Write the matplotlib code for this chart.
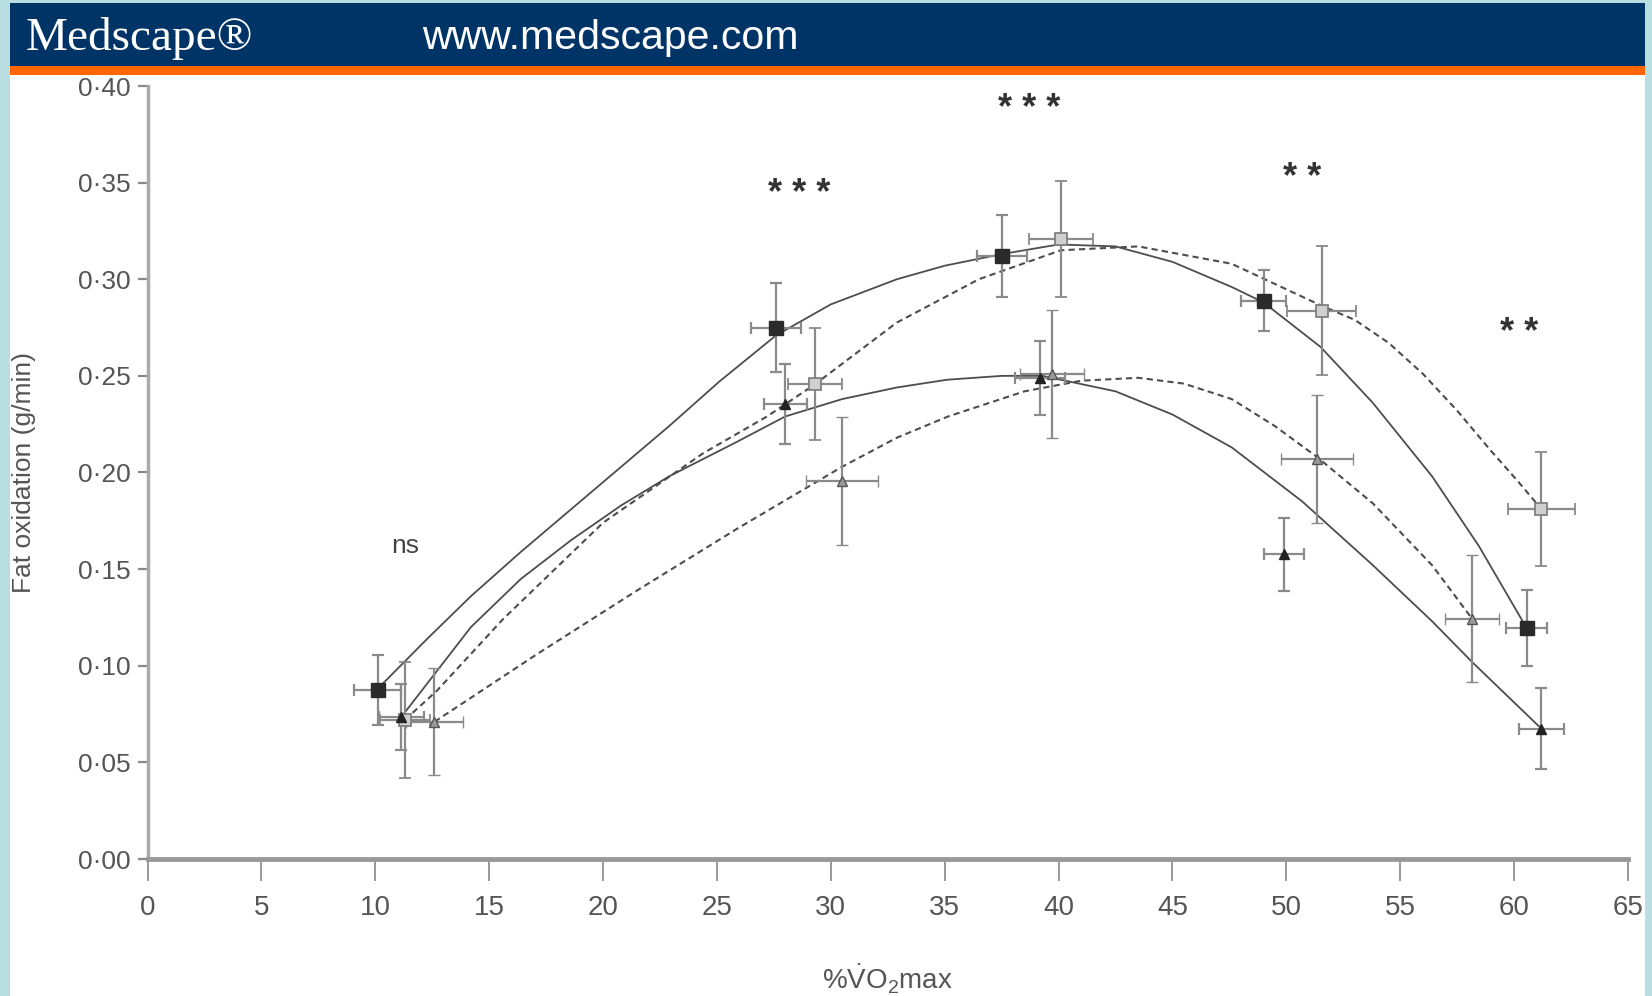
import matplotlib.pyplot as plt
from matplotlib.patches import Rectangle

plt.rcParams['font.family'] = ['Liberation Sans', 'DejaVu Sans']
plt.rcParams['mathtext.fontset'] = 'custom'
plt.rcParams['mathtext.rm'] = 'Liberation Sans'

# filled squares
sq_x = [10.1, 27.6, 37.5, 49.0, 60.55]
sq_y = [0.0875, 0.275, 0.312, 0.289, 0.1195]
sq_xerr = [1.05, 1.1, 1.1, 1.0, 0.9]
sq_yerr = [0.018, 0.023, 0.021, 0.016, 0.0195]

# open squares
osq_x = [11.3, 29.3, 40.1, 51.55, 61.2]
osq_y = [0.072, 0.2456, 0.3207, 0.2838, 0.1813]
osq_xerr = [1.1, 1.17, 1.4, 1.5, 1.46]
osq_yerr = [0.03, 0.029, 0.030, 0.0335, 0.0295]

# filled triangles
tri_x = [11.15, 28.0, 39.2, 49.9, 61.2]
tri_y = [0.0736, 0.2353, 0.249, 0.1577, 0.0674]
tri_xerr = [1.0, 0.95, 1.1, 0.88, 1.0]
tri_yerr = [0.017, 0.0207, 0.019, 0.019, 0.021]

# open triangles
otri_x = [12.6, 30.5, 39.7, 51.35, 58.15]
otri_y = [0.071, 0.1955, 0.251, 0.207, 0.1244]
otri_xerr = [1.25, 1.57, 1.4, 1.57, 1.17]
otri_yerr = [0.0277, 0.033, 0.033, 0.033, 0.033]

# fitted curves
fit_sq_x = [10.1, 12.2, 14.2, 16.4, 18.6, 20.8, 22.9, 25.1, 27.6, 30.0, 32.9, 35.0,
            37.5, 40.0, 42.5, 45.0, 47.6, 49.0, 51.5, 53.8, 56.4, 58.45, 60.55]
fit_sq_y = [0.088, 0.113, 0.136, 0.159, 0.181, 0.203, 0.224, 0.247, 0.271, 0.287,
            0.300, 0.307, 0.313, 0.318, 0.317, 0.309, 0.296, 0.288, 0.265, 0.236,
            0.198, 0.162, 0.1195]

fit_osq_x = [11.3, 12.7, 15.6, 20.0, 24.4, 27.2, 29.3, 32.9, 36.5, 40.1, 43.5,
             47.6, 51.6, 53.0, 54.5, 56.0, 57.5, 59.0, 60.2, 61.2]
fit_osq_y = [0.072, 0.087, 0.124, 0.174, 0.210, 0.229, 0.2456, 0.2776, 0.300, 0.315,
             0.317, 0.308, 0.286, 0.279, 0.267, 0.251, 0.232, 0.211, 0.195, 0.181]

fit_tri_x = [11.15, 14.2, 16.4, 18.6, 20.8, 22.9, 25.9, 28.0, 30.5, 32.9, 35.1, 37.5,
             39.3, 42.5, 45.0, 47.6, 50.7, 53.8, 56.4, 58.15, 61.2]
fit_tri_y = [0.0736, 0.120, 0.145, 0.165, 0.183, 0.198, 0.216, 0.229, 0.238, 0.244,
             0.248, 0.250, 0.250, 0.242, 0.230, 0.213, 0.185, 0.152, 0.123, 0.102, 0.0674]

fit_otri_x = [12.6, 17.1, 21.5, 25.9, 30.5, 32.9, 35.15, 38.5, 41.0, 43.5,
              45.5, 47.6, 49.5, 51.35, 53.8, 56.4, 58.15]
fit_otri_y = [0.071, 0.106, 0.139, 0.171, 0.203, 0.218, 0.229, 0.242, 0.2475, 0.249,
              0.246, 0.238, 0.224, 0.208, 0.184, 0.152, 0.1244]

# significance labels
sig_x = [11.3, 28.6, 38.7, 50.7, 60.2]
sig_y = [0.162, 0.348, 0.392, 0.356, 0.276]
sig_txt = ['ns', '***', '***', '**', '**']

xticks = list(range(0, 70, 5))
yticks = [0.0, 0.05, 0.10, 0.15, 0.20, 0.25, 0.30, 0.35, 0.40]

fig = plt.figure(figsize=(16.52, 9.96), dpi=100)
fig.patch.set_facecolor('#b9dee2')

# white panel and header bands
fig.add_artist(Rectangle((10/1652, 0), 1635/1652, 921/996, transform=fig.transFigure,
                         facecolor='white', edgecolor='none', zorder=0))
fig.add_artist(Rectangle((10/1652, 921/996), 1635/1652, 9/996, transform=fig.transFigure,
                         facecolor='#ff6600', edgecolor='none', zorder=0))
fig.add_artist(Rectangle((10/1652, 930/996), 1635/1652, 63/996, transform=fig.transFigure,
                         facecolor='#003366', edgecolor='none', zorder=0))
fig.text(26/1652, 957/996, 'Medscape\u00ae', color='white', fontsize=34,
         family='Liberation Serif', va='center', ha='left')
fig.text(422/1652, 958/996, 'www.medscape.com', color='white', fontsize=29.5,
         va='center', ha='left')

ax = fig.add_axes([147.5/1652, 137/996, 1480.5/1652, 773/996])
ax.set_facecolor('none')

line_c = '#4d4d4d'
err_c = '#8a8a8a'

ax.plot(fit_sq_x, fit_sq_y, color=line_c, lw=1.3, zorder=3)
ax.plot(fit_osq_x, fit_osq_y, color=line_c, lw=1.5, dashes=(3, 2), zorder=3)
ax.plot(fit_tri_x, fit_tri_y, color=line_c, lw=1.3, zorder=3)
ax.plot(fit_otri_x, fit_otri_y, color=line_c, lw=1.5, dashes=(3, 2), zorder=3)

ekw = dict(ecolor=err_c, elinewidth=1.6, capsize=4.5, capthick=1.6, ls='none', zorder=4)
ax.errorbar(otri_x, otri_y, xerr=otri_xerr, yerr=otri_yerr, marker='^', ms=7,
            mfc='#9a9a9a', mec='#555555', mew=1.0, **ekw)
ax.errorbar(osq_x, osq_y, xerr=osq_xerr, yerr=osq_yerr, marker='s', ms=9,
            mfc='#cfcfcf', mec='#808080', mew=1.3, **ekw)
ax.errorbar(tri_x, tri_y, xerr=tri_xerr, yerr=tri_yerr, marker='^', ms=7,
            mfc='#222222', mec='#222222', **ekw)
ax.errorbar(sq_x, sq_y, xerr=sq_xerr, yerr=sq_yerr, marker='s', ms=10,
            mfc='#2a2a2a', mec='#2a2a2a', **ekw)

for x, y, t in zip(sig_x, sig_y, sig_txt):
    if t == 'ns':
        ax.text(x, y, t, fontsize=19, color='#444444', ha='center', va='center')
    else:
        ax.text(x, y - 0.004, ' '.join(t), fontsize=26, fontweight='bold',
                color='#333333', ha='center', va='center')

ax.set_xlim(0, 65)
ax.set_ylim(0, 0.40)
ax.set_xticks(xticks)
ax.set_xticklabels([str(t) for t in xticks])
ax.set_yticks(yticks)
ax.set_yticklabels([f'{t:.2f}'.replace('.', '\u00b7') for t in yticks])

for s in ['top', 'right']:
    ax.spines[s].set_visible(False)
ax.spines['left'].set_color('#aaaaaa')
ax.spines['left'].set_linewidth(2.5)
ax.spines['bottom'].set_color('#999999')
ax.spines['bottom'].set_linewidth(3.5)
ax.tick_params(axis='y', direction='out', length=7, width=1.6, color='#888888',
               labelsize=19, labelcolor='#555555', pad=5)
ax.tick_params(axis='x', direction='out', length=16, width=1.2, color='#888888',
               labelsize=20, labelcolor='#555555', pad=10)

ax.set_ylabel('Fat oxidation (g/min)', fontsize=19, color='#555555', labelpad=30)
ax.set_xlabel(r'%$\dot{\rm V}$O$_2$max', fontsize=20, color='#555555', labelpad=30)

fig.savefig('out.png', dpi=100, facecolor=fig.get_facecolor())
